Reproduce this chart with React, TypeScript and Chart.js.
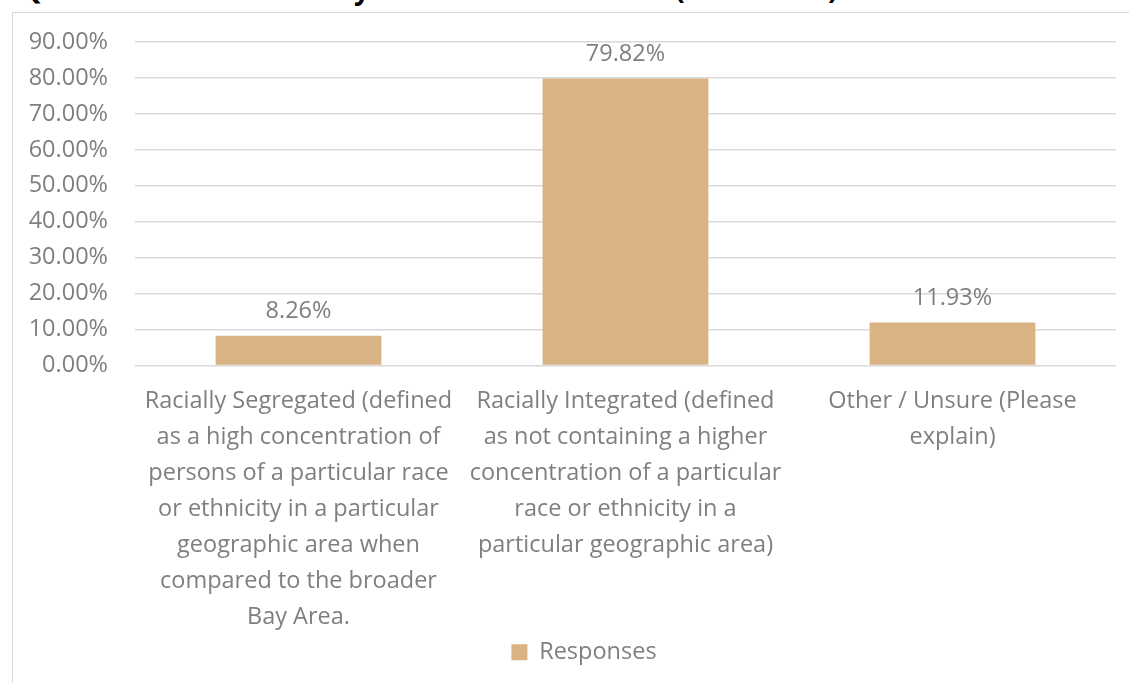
import React, { useEffect, useRef } from "react";
import { Chart, registerables } from "chart.js";

Chart.register(...registerables);

const titleText = "Q5. Is the area in which you reside considered: (Select one)";
const seriesName = "Responses";
const categories: string[][] = [
  [
    "Racially Segregated (defined",
    "as a high concentration of",
    "persons of a particular race",
    "or ethnicity in a particular",
    "geographic area when",
    "compared to the broader",
    "Bay Area.",
  ],
  [
    "Racially Integrated (defined",
    "as not containing a higher",
    "concentration of a particular",
    "race or ethnicity in a",
    "particular geographic area)",
  ],
  ["Other / Unsure (Please", "explain)"],
];
const responses = [8.26, 79.82, 11.93];
const yMin = 0;
const yMax = 90;
const yStep = 10;

const FONT = '"Open Sans", "DejaVu Sans", sans-serif';
const TEXT = "#7f7f7f";
const FS = 23.5;

export default function App() {
  const ref = useRef<HTMLCanvasElement>(null);

  useEffect(() => {
    if (!ref.current) return;
    const valueLabels = {
      id: "valueLabels",
      afterDatasetsDraw(chart: any) {
        const ctx = chart.ctx;
        const meta = chart.getDatasetMeta(0);
        ctx.save();
        ctx.font = `${FS}px ${FONT}`;
        ctx.fillStyle = TEXT;
        ctx.textAlign = "center";
        ctx.textBaseline = "alphabetic";
        meta.data.forEach((bar: any, i: number) => {
          ctx.fillText(responses[i].toFixed(2) + "%", bar.x, bar.y - 17.5);
        });
        ctx.restore();
      },
    };
    const fixV = (w: number) => (s: any) => {
      s.width = w;
      s.paddingTop = 0;
      s.paddingBottom = 0;
    };
    const chart = new Chart(ref.current, {
      type: "bar",
      data: {
        labels: categories,
        datasets: [
          {
            label: seriesName,
            data: responses,
            backgroundColor: "#d9b383",
            borderWidth: 0,
            barPercentage: 0.507,
            categoryPercentage: 1,
            yAxisID: "y",
          },
        ],
      },
      options: {
        animation: false,
        responsive: false,
        maintainAspectRatio: false,
        events: [],
        layout: { padding: { top: 30, right: 0, left: 0, bottom: 20 } },
        plugins: {
          legend: {
            position: "bottom",
            labels: {
              boxWidth: 16,
              boxHeight: 16,
              padding: 10,
              color: TEXT,
              font: { family: FONT, size: FS },
            },
          },
          tooltip: { enabled: false },
          title: { display: false },
        },
        scales: {
          x: {
            grid: { display: false, drawTicks: false },
            border: { display: false },
            ticks: {
              color: TEXT,
              font: { family: FONT, size: FS, lineHeight: 36 / FS },
              padding: 18,
              maxRotation: 0,
              minRotation: 0,
              autoSkip: false,
            },
            afterFit: (s: any) => {
              s.height = 265;
              s.paddingLeft = 0;
              s.paddingRight = 0;
            },
          },
          y: {
            position: "left",
            min: yMin,
            max: yMax,
            ticks: {
              stepSize: yStep,
              padding: 27,
              color: TEXT,
              font: { family: FONT, size: FS },
              callback: (v: any) => Number(v).toFixed(2) + "%",
            },
            grid: { color: "#d9d9d9", lineWidth: 1.5, drawTicks: false },
            border: { display: false },
            afterFit: fixV(123),
          },
          yRight: {
            position: "right",
            min: yMin,
            max: yMax,
            ticks: { display: false },
            grid: { display: false, drawTicks: false },
            border: { display: false },
            afterFit: fixV(40),
          },
        },
      },
      plugins: [valueLabels],
    } as any);
    return () => chart.destroy();
  }, []);

  return (
    <div
      style={{
        position: "fixed",
        left: 0,
        top: 0,
        width: 1129,
        height: 683,
        overflow: "hidden",
        background: "#ffffff",
      }}
    >
      <div
        style={{
          position: "absolute",
          left: 20,
          top: -26,
          whiteSpace: "nowrap",
          fontFamily: FONT,
          fontWeight: 700,
          fontSize: 28,
          lineHeight: "28px",
          color: "#000000",
        }}
      >
        {titleText}
      </div>
      <div
        style={{
          position: "absolute",
          left: 12,
          top: 12,
          width: 1144,
          height: 720,
          borderLeft: "1px solid #d9d9d9",
          borderTop: "1px solid #d9d9d9",
          boxSizing: "border-box",
        }}
      />
      <canvas
        ref={ref}
        width={1144}
        height={682}
        style={{ position: "absolute", left: 12, top: 12, width: 1144, height: 682 }}
      />
    </div>
  );
}
